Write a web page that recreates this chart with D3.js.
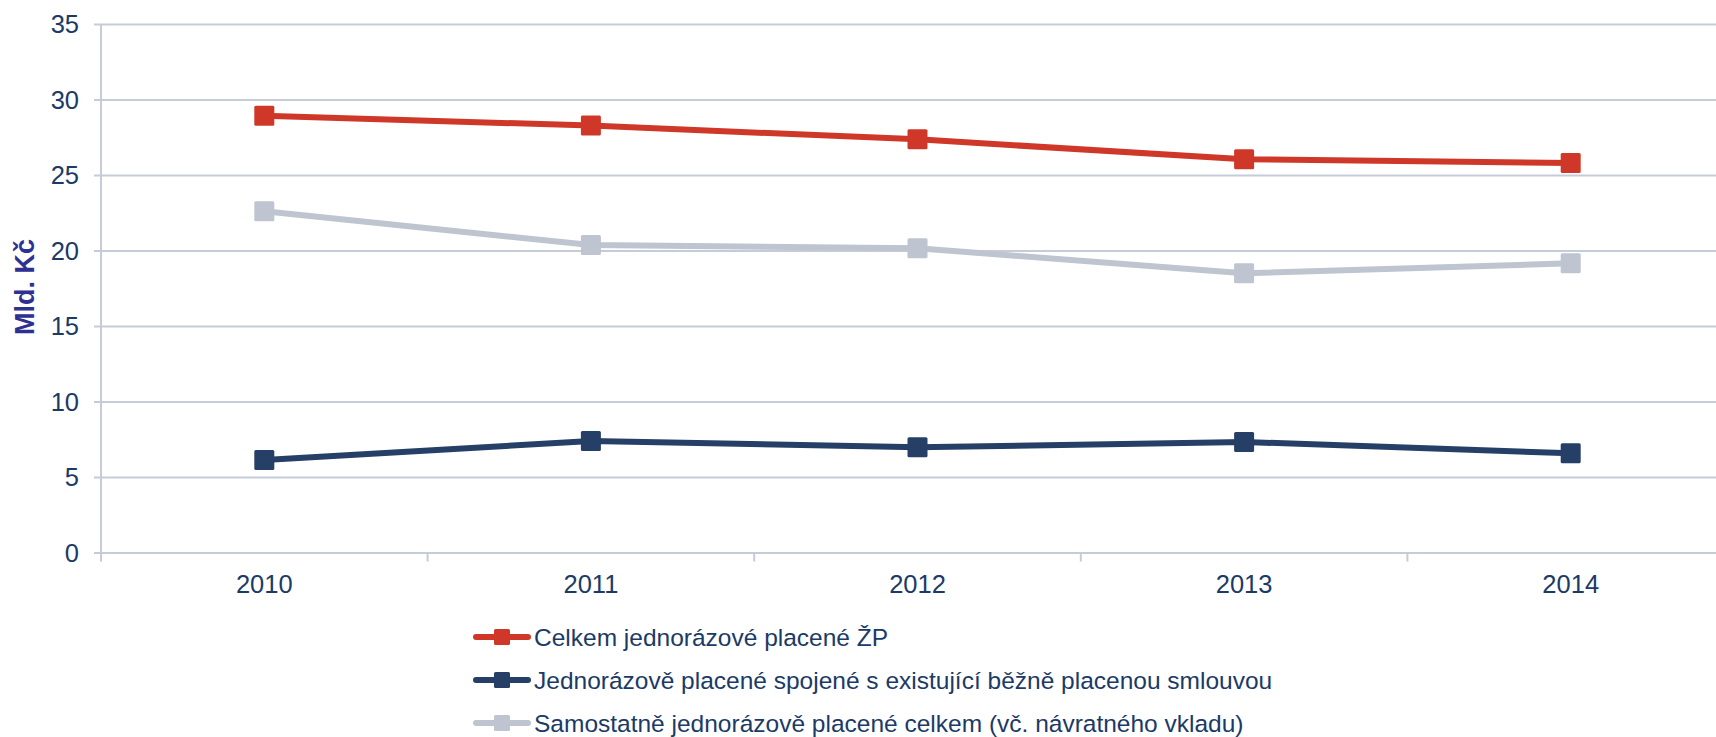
<!DOCTYPE html>
<html>
<head>
<meta charset="utf-8">
<script src="https://cdn.jsdelivr.net/npm/d3@7"></script>
<style>
  html, body { margin: 0; padding: 0; background: #ffffff; }
  svg { display: block; }
  text { font-family: "Liberation Sans", Arial, sans-serif; }
</style>
</head>
<body>
<svg id="chart" width="1716" height="737"></svg>
<script>
// ---- data ----
const years = ["2010", "2011", "2012", "2013", "2014"];
const celkem = [28.93, 28.27, 27.36, 26.04, 25.80];
const spojene = [6.13, 7.38, 6.97, 7.32, 6.57];
const samostatne = [22.60, 20.36, 20.15, 18.49, 19.15];
const yTicks = [0, 5, 10, 15, 20, 25, 30, 35];
const seriesNames = [
  "Celkem jednorázové placené ŽP",
  "Jednorázově placené spojené s existující běžně placenou smlouvou",
  "Samostatně jednorázově placené celkem (vč. návratného vkladu)"
];
const yTitle = "Mld. Kč";

(function () {
const series = [
  { name: seriesNames[0], values: celkem, color: "#cf3828" },
  { name: seriesNames[1], values: spojene, color: "#263f67" },
  { name: seriesNames[2], values: samostatne, color: "#bec5d0" }
];
// drawing order: grey, red, dark
const drawOrder = [2, 0, 1];

const svg = d3.select("#chart");
const pL = 101, pR = 1734, pT = 24, pB = 552.5;
const gridColor = "#c6ccd7";
const textColor = "#1b3a66";

const x = d3.scaleBand().domain(years).range([pL, pR]).padding(0);
const y = d3.scaleLinear().domain([0, 35]).range([pB, pT]);

// gridlines + left ticks
const yAxis = d3.axisLeft(y).tickValues(yTicks).tickSize(-(pR - pL)).tickSizeOuter(0).tickPadding(16);
const gy = svg.append("g").attr("transform", `translate(${pL},0)`).call(yAxis);
gy.select(".domain").remove();
gy.selectAll(".tick line").attr("stroke", gridColor).attr("stroke-width", 2).attr("x1", -7);
gy.selectAll(".tick text").attr("fill", textColor).style("font-size", "25.5px").attr("dy", "0.35em").attr("x", -22);

// y axis line
svg.append("line").attr("x1", pL).attr("x2", pL).attr("y1", pT).attr("y2", pB + 9)
  .attr("stroke", gridColor).attr("stroke-width", 2);

// x axis
const xAxis = d3.axisBottom(x).tickSize(0).tickPadding(0);
const gx = svg.append("g").attr("transform", `translate(0,${pB})`).call(xAxis);
gx.select(".domain").remove();
gx.selectAll(".tick text").attr("fill", textColor).style("font-size", "25.5px").attr("y", 40).attr("dy", "0");
// band boundary ticks
const bounds = years.map(d => x(d)).concat([x(years[years.length - 1]) + x.bandwidth()]);
svg.append("g").selectAll("line").data(bounds).join("line")
  .attr("x1", d => d).attr("x2", d => d).attr("y1", pB).attr("y2", pB + 9)
  .attr("stroke", gridColor).attr("stroke-width", 2);

// y title
svg.append("text")
  .attr("transform", `translate(34,${287}) rotate(-90)`)
  .attr("text-anchor", "middle")
  .attr("fill", "#2e3192")
  .style("font-size", "27px").style("font-weight", "bold")
  .text(yTitle);

// lines
const line = d3.line().x((d, i) => x(years[i]) + x.bandwidth() / 2).y(d => y(d));
const ms = 20;
drawOrder.forEach(k => {
  const s = series[k];
  svg.append("path").datum(s.values).attr("d", line)
    .attr("fill", "none").attr("stroke", s.color).attr("stroke-width", 6)
    .attr("stroke-linejoin", "round");
  svg.append("g").selectAll("rect").data(s.values).join("rect")
    .attr("x", (d, i) => x(years[i]) + x.bandwidth() / 2 - ms / 2)
    .attr("y", d => y(d) - ms / 2)
    .attr("width", ms).attr("height", ms).attr("rx", 1.5)
    .attr("fill", s.color);
});

// legend
const legY = [637, 680, 723];
const lg = svg.append("g");
series.forEach((s, i) => {
  const g = lg.append("g").attr("transform", `translate(0,${legY[i]})`);
  g.append("line").attr("x1", 476).attr("x2", 528).attr("y1", 0).attr("y2", 0)
    .attr("stroke", s.color).attr("stroke-width", 6).attr("stroke-linecap", "round");
  g.append("rect").attr("x", 494).attr("y", -8).attr("width", 16).attr("height", 16).attr("rx", 1.5)
    .attr("fill", s.color);
  g.append("text").attr("x", 534).attr("y", 0).attr("dy", "0.35em")
    .attr("fill", textColor).style("font-size", "24.5px").text(s.name);
});
})();
</script>
</body>
</html>
